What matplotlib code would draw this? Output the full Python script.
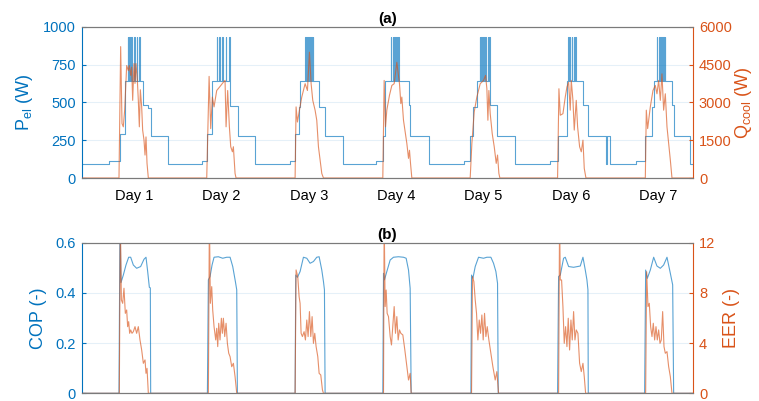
"""
Weekly electric power, cooling load, COP and EER of the chiller (two panels).
"""

import matplotlib

matplotlib.use("Agg")
import matplotlib.pyplot as plt

# ---- data (time in hours from the start of the week) ----
p_el_t = [0, 7.6, 10.5, 11.9,
          12.6, 12.75, 13.0, 13.15, 13.6, 13.75, 14.4, 14.55, 15.1, 15.25, 15.8, 15.95,
          16.9, 18.3, 19.0, 23.6,
          33.0, 34.5, 35.7,
          37.1, 37.25, 37.8, 37.95, 38.6, 38.75, 39.6, 39.75, 40.5, 40.65,
          40.8, 42.8, 47.7,
          57.1, 58.6, 59.8, 60.0,
          61.4, 61.55, 61.9, 62.05, 62.5, 62.65, 63.1, 63.25, 63.5, 63.65,
          65.2, 66.9, 71.7,
          80.9, 82.7, 83.3,
          84.9, 85.05, 85.4, 85.55, 85.9, 86.05, 86.4, 86.55, 86.9, 87.05,
          90.0, 90.3, 95.4,
          104.9, 106.7, 107.5, 108.6,
          109.3, 109.45, 109.8, 109.95, 110.3, 110.45, 110.9, 111.05, 111.5, 111.65, 111.9, 112.05,
          112.1, 114.0, 119.1,
          128.7, 130.7, 133.3,
          133.6, 133.75, 134.1, 134.25, 134.6, 134.75, 135.1, 135.25, 135.5, 135.65,
          137.8, 139.2, 144.1, 144.3, 145.2,
          152.3, 154.8, 156.6, 157.3,
          158.0, 158.15, 158.6, 158.75, 159.2, 159.35, 159.7, 159.85, 160.2, 160.35,
          162.1, 162.8, 167.0, 168.0]
p_el_v = [90, 112, 290, 640,
          930, 640, 930, 640, 930, 640, 930, 640, 930, 640, 930, 640,
          480, 460, 280, 90,
          110, 290, 640,
          930, 640, 930, 640, 930, 640, 930, 640, 930, 640,
          475, 280, 90,
          110, 290, 470, 640,
          930, 640, 930, 640, 930, 640, 930, 640, 930, 640,
          470, 280, 90,
          110, 280, 640,
          930, 640, 930, 640, 930, 640, 930, 640, 930, 640,
          480, 280, 90,
          110, 280, 470, 640,
          930, 640, 930, 640, 930, 640, 930, 640, 930, 640, 930, 640,
          480, 280, 90,
          110, 280, 640,
          930, 640, 930, 640, 930, 640, 930, 640, 930, 640,
          480, 280, 90, 280, 90,
          110, 280, 470, 640,
          930, 640, 930, 640, 930, 640, 930, 640, 930, 640,
          480, 280, 90, 90]

q_cool_t = [0,
            10.25, 10.71, 11.08, 11.44, 11.81, 12.36, 12.82, 13.09, 13.46, 13.73, 14.01, 14.37,
            14.65, 14.92, 15.29, 15.56, 15.84, 16.11, 16.48, 16.75, 17.12, 17.40, 17.67, 17.95, 18.31,
            34.35, 35.0, 35.44, 35.9, 36.36, 37.09, 38.0, 38.92, 39.38, 39.66, 40.1, 40.57, 40.94,
            41.4, 41.67, 42.13, 42.4,
            58.62, 58.89, 59.26, 59.81, 60.45, 61.37, 62.01, 62.56, 63.02, 63.47, 64.11, 64.57,
            65.03, 65.49, 65.95, 66.41,
            82.71, 83.08, 83.45, 83.81, 84.54, 85.19, 85.83, 86.56, 87.29, 87.66, 87.93, 88.39,
            89.31, 89.77, 90.04, 90.32, 90.68,
            106.71, 107.17, 107.81, 108.54, 109.46, 110.38, 110.93, 111.29, 111.57, 111.84, 112.21,
            112.76, 113.31, 113.86, 114.22, 114.59, 114.86,
            130.71, 131.08, 131.45, 132.18, 132.82, 133.28, 133.74, 134.19, 134.47, 134.93, 135.29,
            135.84, 136.21, 136.76, 137.22, 137.68, 138.04, 138.5,
            154.81, 155.08, 155.45, 156.18, 156.91, 157.55, 158.01, 158.47, 158.93, 159.38, 159.84,
            160.3, 160.76, 161.22, 161.68, 162.13,
            168.0]
q_cool_v = [0,
            0, 5210, 2160, 2030, 2690, 4460, 4260, 4460, 4070, 4400, 3080, 4540,
            3750, 4540, 3880, 3080, 2030, 3500, 2820, 1900, 1500, 910, 1630, 580, 0,
            0, 4030, 1960, 3210, 2820, 3470, 3630, 3800, 3870, 2030, 3470, 2030, 1240,
            1040, 1240, 180, 0,
            0, 2820, 2220, 2690, 3210, 3740, 3470, 4990, 3740, 3080, 2690, 2290,
            1240, 710, 180, 0,
            0, 3870, 2030, 2690, 3280, 3670, 3740, 4590, 3740, 2950, 3210, 2290,
            1370, 780, 1100, 580, 0,
            0, 1370, 2620, 3210, 3740, 3870, 4070, 3540, 2290, 3470, 2550,
            1760, 1240, 580, 910, 180, 0,
            0, 3540, 2490, 2550, 3210, 3610, 3800, 2690, 3870, 3080, 1900,
            3080, 2030, 1240, 1040, 1500, 380, 0,
            0, 2690, 1960, 2820, 3470, 3670, 3340, 3870, 3080, 4130, 2690,
            3340, 2030, 1370, 710, 0,
            0]

cop_t = [0,
         10.25, 10.53, 10.8, 11.44, 12.17, 12.91, 13.46, 14.19, 15.1, 16.2, 17.12, 17.67, 18.13,
         18.59, 18.86, 18.95,
         34.53, 34.8, 35.26, 35.81, 36.36, 37.55, 38.74, 39.84, 40.76, 41.49, 42.22, 42.59, 42.77,
         58.62, 58.8, 59.26, 59.99, 60.91, 61.83, 62.74, 63.66, 64.57, 65.22, 65.95, 66.41, 66.68,
         66.86,
         82.71, 82.9, 83.17, 83.81, 84.73, 85.64, 87.02, 88.39, 89.12, 89.77, 90.22, 90.5,
         106.9, 107.08, 107.45, 108.09, 109.0, 110.38, 111.29, 112.39, 113.12, 113.77, 114.22,
         114.41,
         130.71, 130.99, 131.45, 132.36, 132.82, 133.74, 135.11, 136.94, 137.68, 138.32, 138.77,
         139.05, 139.14,
         154.62, 154.9, 155.36, 156.18, 157.1, 158.01, 158.93, 159.84, 160.76, 161.68, 162.32,
         162.59,
         168.0]
cop_v = [0,
         0, 0.7, 0.441, 0.471, 0.511, 0.542, 0.542, 0.511, 0.498, 0.505, 0.534, 0.542, 0.485,
         0.422, 0.42, 0,
         0, 0.452, 0.465, 0.511, 0.542, 0.544, 0.538, 0.542, 0.542, 0.505, 0.445, 0.412, 0,
         0, 0.471, 0.462, 0.485, 0.542, 0.538, 0.518, 0.525, 0.542, 0.544, 0.491, 0.445, 0.412,
         0,
         0, 0.478, 0.452, 0.485, 0.531, 0.542, 0.544, 0.542, 0.538, 0.491, 0.418, 0,
         0, 0.471, 0.458, 0.505, 0.542, 0.538, 0.542, 0.542, 0.518, 0.485, 0.438,
         0,
         0, 0.465, 0.471, 0.538, 0.542, 0.505, 0.502, 0.507, 0.542, 0.491, 0.452,
         0.412, 0,
         0, 0.491, 0.458, 0.491, 0.542, 0.507, 0.498, 0.511, 0.542, 0.478, 0.432,
         0,
         0]

eer_t = [0,
         10.34, 10.62, 10.9, 11.26, 11.62, 11.99, 12.36, 12.63, 12.91, 13.18, 13.46, 13.82, 14.19,
         14.65, 15.1, 15.56, 16.02, 16.48, 16.94, 17.4, 17.67, 17.95, 18.13, 18.31,
         34.8, 35.08, 35.35, 35.72, 35.99, 36.36, 36.82, 37.09, 37.37, 37.64, 38.0, 38.37, 38.65,
         38.92, 39.29, 39.66, 40.02, 40.39, 40.76, 41.21, 41.67, 42.13, 42.59,
         58.62, 58.89, 59.35, 59.72, 59.99, 60.27, 60.63, 61.09, 61.46, 61.83, 62.19, 62.56, 62.93,
         63.29, 63.66, 64.02, 64.39, 64.85, 65.22, 65.67, 66.13, 66.41,
         82.9, 83.08, 83.35, 83.63, 83.9, 84.27, 84.73, 85.09, 85.46, 85.83, 86.19, 86.56, 86.93,
         87.29, 87.66, 88.21, 88.76, 89.31, 89.77, 90.22, 90.5,
         107.08, 107.35, 107.72, 108.09, 108.45, 108.82, 109.19, 109.55, 109.92, 110.28, 110.65,
         111.02, 111.39, 111.84, 112.39, 112.94, 113.58, 114.03, 114.5,
         130.99, 131.26, 131.45, 131.81, 132.18, 132.54, 132.91, 133.28, 133.64, 134.01, 134.38,
         134.74, 135.11, 135.48, 135.84, 136.3, 136.76, 137.22, 137.68, 138.04, 138.41,
         154.9, 155.17, 155.54, 155.9, 156.27, 156.64, 157.0, 157.37, 157.74, 158.1, 158.47,
         158.84, 159.2, 159.57, 159.94, 160.3, 160.76, 161.22, 161.68, 162.13,
         168.0]
eer_v = [0,
         0, 14, 7.44, 7.17, 8.37, 6.37, 6.64, 5.31, 5.71, 4.78, 5.05, 4.78, 4.91,
         5.31, 4.78, 5.31, 4.25, 3.45, 2.39, 2.66, 1.59, 1.99, 0.93, 0,
         0, 14, 7.17, 8.5, 6.64, 5.31, 4.25, 5.18, 3.72, 5.58, 4.25, 5.98, 4.78,
         5.98, 4.52, 5.58, 3.98, 3.19, 2.92, 2.12, 2.39, 1.33, 0,
         0, 9.83, 9.3, 7.7, 7.17, 4.78, 4.52, 4.91, 4.25, 5.84, 4.52, 6.51, 4.52,
         6.11, 3.98, 4.78, 3.72, 2.92, 1.59, 1.46, 0.27, 0,
         0, 14, 6.91, 8.23, 6.37, 6.11, 4.52, 3.85, 5.44, 6.91, 4.78, 6.11, 4.25,
         5.05, 4.78, 4.65, 3.45, 2.12, 1.06, 1.59, 0,
         0, 9.3, 8.9, 7.44, 6.37, 4.25, 5.84, 4.78, 6.24, 4.25, 6.37,
         4.52, 5.31, 4.25, 3.19, 2.12, 1.06, 1.73, 0,
         0, 14, 9.03, 9.03, 6.91, 3.98, 5.31, 3.72, 5.98, 3.45, 5.84,
         4.25, 6.51, 4.25, 5.05, 4.78, 2.39, 1.73, 2.39, 1.33, 0,
         0, 9.69, 6.91, 7.17, 5.31, 4.52, 5.58, 4.25, 5.31, 4.25, 5.05,
         3.98, 4.25, 6.51, 3.72, 3.19, 3.32, 2.12, 1.33, 0,
         0]

day_ticks = [14.4, 38.4, 62.4, 86.4, 110.4, 134.4, 158.4]
day_labels = ["Day 1", "Day 2", "Day 3", "Day 4", "Day 5", "Day 6", "Day 7"]

# ---- style ----
BLUE = "#0072BD"
ORANGE = "#D95319"
GRAY = "#7a7a7a"
LINE_KW = dict(linewidth=0.8, alpha=0.65)

plt.rcParams["font.family"] = ["Liberation Sans", "DejaVu Sans"]
plt.rcParams["mathtext.fontset"] = "custom"
plt.rcParams["mathtext.rm"] = "Liberation Sans"


def style_pair(ax, axr, left_color, right_color):
    """Colour spines and ticks like a MATLAB yyaxis plot."""
    ax.set_xlim(0, 168)
    ax.grid(axis="y", color=left_color, alpha=0.1, linewidth=0.8)
    ax.set_axisbelow(True)
    for a in (ax, axr):
        a.spines["top"].set_color(GRAY)
        a.spines["bottom"].set_color(GRAY)
        for s in a.spines.values():
            s.set_linewidth(0.8)
    ax.spines["left"].set_color(left_color)
    ax.spines["right"].set_visible(False)
    axr.spines["left"].set_visible(False)
    axr.spines["right"].set_color(right_color)
    ax.tick_params(axis="y", colors=left_color, direction="in", length=3,
                   labelsize=10.5, pad=4)
    axr.tick_params(axis="y", colors=right_color, direction="in", length=3,
                    labelsize=10.5, pad=4)
    ax.tick_params(axis="x", length=0)


fig = plt.figure(figsize=(7.59, 4.01), dpi=100)

# (a) power and cooling
ax1 = fig.add_axes([0.1076, 0.5561, 0.8059, 0.3773])
ax1r = ax1.twinx()
ax1.plot(p_el_t, p_el_v, drawstyle="steps-post", color=BLUE, **LINE_KW)
ax1r.plot(q_cool_t, q_cool_v, color=ORANGE, **LINE_KW)
ax1.set_ylim(0, 1000)
ax1.set_yticks([0, 250, 500, 750, 1000])
ax1r.set_ylim(0, 6000)
ax1r.set_yticks([0, 1500, 3000, 4500, 6000])
style_pair(ax1, ax1r, BLUE, ORANGE)
ax1.set_xticks(day_ticks)
ax1.set_xticklabels(day_labels, fontsize=10.5)
ax1.tick_params(axis="x", pad=8)
ax1.set_ylabel("P$_{\\mathrm{el}}$ (W)", color=BLUE, fontsize=13, labelpad=6)
ax1r.set_ylabel("Q$_{\\mathrm{cool}}$ (W)", color=ORANGE, fontsize=13,
                rotation=90, labelpad=1)
ax1.set_title("(a)", fontweight="bold", fontsize=11, pad=3)

# (b) COP and EER
ax2 = fig.add_axes([0.1076, 0.0192, 0.8059, 0.3756])
ax2r = ax2.twinx()
ax2.plot(cop_t, cop_v, color=BLUE, **LINE_KW)
ax2r.plot(eer_t, eer_v, color=ORANGE, **LINE_KW)
ax2.set_ylim(0, 0.6)
ax2.set_yticks([0, 0.2, 0.4, 0.6])
ax2.set_yticklabels(["0", "0.2", "0.4", "0.6"])
ax2r.set_ylim(0, 12)
ax2r.set_yticks([0, 4, 8, 12])
style_pair(ax2, ax2r, BLUE, ORANGE)
ax2.set_xticks([])
ax2.set_ylabel("COP (-)", color=BLUE, fontsize=13, labelpad=6)
ax2r.set_ylabel("EER (-)", color=ORANGE, fontsize=13, rotation=90, labelpad=6)
ax2.set_title("(b)", fontweight="bold", fontsize=11, pad=3)

fig.savefig("out.png", dpi=100)
